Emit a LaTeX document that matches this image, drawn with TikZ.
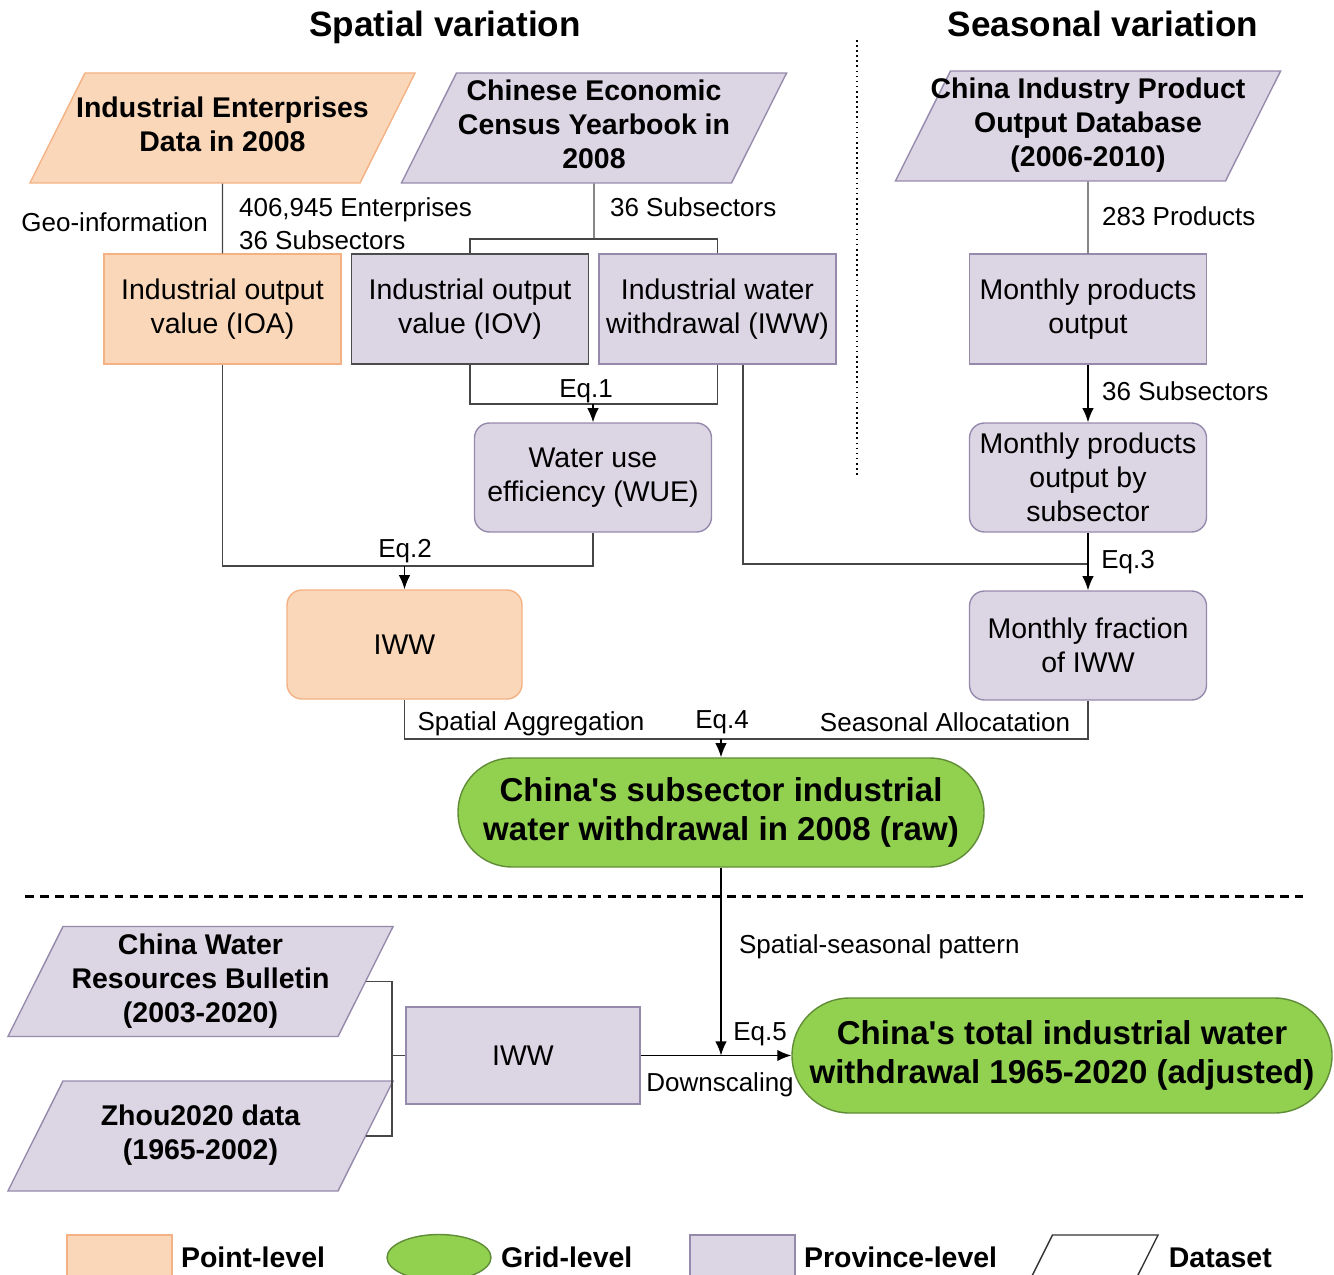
\documentclass[tikz,border=0pt]{standalone}
\usepackage{fontspec}
\setmainfont{Liberation Sans}
\usepackage{tikz}
\usetikzlibrary{shapes,positioning,calc}
\usetikzlibrary{shapes.geometric, arrows}
\usetikzlibrary{arrows.meta}
\definecolor{pointfill}{RGB}{250,215,185}
\definecolor{pointline}{RGB}{244,177,131}
\definecolor{provfill}{RGB}{220,214,228}
\definecolor{provline}{RGB}{150,138,172}
\definecolor{gridfill}{RGB}{146,208,80}
\definecolor{gridline}{RGB}{96,140,55}
\definecolor{connline}{RGB}{70,70,70}
\newcommand{\boxtext}{\fontsize{16.2}{19.4}\selectfont}
\newcommand{\boxbold}{\fontsize{16.2}{19.4}\selectfont\bfseries}
\newcommand{\gridbold}{\fontsize{18.8}{22.2}\selectfont\bfseries}
\newcommand{\titlebold}{\fontsize{20}{24}\selectfont\bfseries}
\newcommand{\labeltext}{\fontsize{14.8}{18.8}\selectfont}
\newcommand{\databody}[1]{\parbox[c][2.2cm][c]{5.5cm}{\centering\makebox[0pt]{\raisebox{-0.06cm}{\begin{tabular}{@{}c@{}}#1\end{tabular}}}}}
\tikzstyle{pointbox} = [rectangle, minimum width=4.74cm, minimum height=2.2cm, text centered, align=center, draw=pointline, fill=pointfill, line width=0.8pt, font=\boxtext]
\tikzstyle{provbox} = [rectangle, minimum width=4.74cm, minimum height=2.2cm, text centered, align=center, draw=provline, fill=provfill, line width=0.8pt, font=\boxtext]
\tikzstyle{roundprov} = [provbox, rounded corners=0.3cm]
\tikzstyle{dataset} = [trapezium, trapezium left angle=63.4, trapezium right angle=116.6, inner sep=0pt, line width=0.8pt, font=\boxbold]
\tikzstyle{gridbox} = [rectangle, rounded corners=1.08cm, minimum width=10.52cm, minimum height=2.18cm, text centered, align=center, draw=gridline, fill=gridfill, line width=0.8pt, font=\gridbold]
\tikzstyle{lbl} = [font=\labeltext, inner sep=1pt]
\tikzstyle{conn} = [draw=connline, line width=0.8pt]
\tikzstyle{arrow} = [line width=0.8pt,->,>={Latex[length=8pt,width=6.5pt]}]

\begin{document}
\begin{tikzpicture}
	\useasboundingbox (0,0) rectangle (26.68,-25.5);
	\node (tspatial) at (8.90,-0.73) [font=\titlebold, anchor=base] {Spatial variation};
	\node (tseasonal) at (22.06,-0.73) [font=\titlebold, anchor=base] {Seasonal variation};
	\draw[dotted, line width=0.9pt] (17.14,-0.8) -- (17.14,-9.5);

	\node (ied) at (4.45,-2.56) [dataset, draw=pointline, fill=pointfill] {\databody{Industrial Enterprises\\Data in 2008}};
	\node (cecy) at (11.88,-2.56) [dataset, draw=provline, fill=provfill] {\databody{Chinese Economic\\Census Yearbook in\\2008}};
	\node (cipo) at (21.76,-2.52) [dataset, draw=provline, fill=provfill] {\databody{China Industry Product\\Output Database\\(2006-2010)}};

	\node (ioa) at (4.45,-6.18) [pointbox] {Industrial output\\value (IOA)};
	\node (iov) at (9.40,-6.18) [provbox, draw=black!70] {Industrial output\\value (IOV)};
	\node (iwwp) at (14.35,-6.18) [provbox] {Industrial water\\withdrawal (IWW)};
	\node (mpo) at (21.76,-6.18) [provbox] {Monthly products\\output};
	\node (wue) at (11.86,-9.55) [roundprov, minimum height=2.18cm] {Water use\\efficiency (WUE)};
	\node (mpos) at (21.76,-9.55) [roundprov, minimum height=2.18cm] {Monthly products\\output by\\subsector};
	\node (iwwpt) at (8.09,-12.89) [pointbox, rounded corners=0.3cm, minimum width=4.7cm, minimum height=2.18cm] {IWW};
	\node (mfrac) at (21.76,-12.91) [roundprov, minimum height=2.18cm] {Monthly fraction\\of IWW};
	\node (raw) at (14.42,-16.25) [gridbox] {China\textquotesingle s subsector industrial\\water withdrawal in 2008 (raw)};

	\draw[dashed, line width=1.7pt, dash pattern=on 5pt off 3.5pt] (0.5,-17.92) -- (26.1,-17.92);

	\node (cwrb) at (4.01,-19.63) [dataset, draw=provline, fill=provfill] {\databody{China Water\\Resources Bulletin\\(2003-2020)}};
	\node (zhou) at (4.01,-22.72) [dataset, draw=provline, fill=provfill] {\databody{Zhou2020 data\\(1965-2002)}};
	\node (iwwb) at (10.46,-21.11) [provbox, minimum width=4.68cm, minimum height=1.94cm] {IWW};
	\node (adj) at (21.24,-21.11) [gridbox, minimum width=10.8cm, minimum height=2.3cm, rounded corners=1.15cm] {China\textquotesingle s total industrial water\\withdrawal 1965-2020 (adjusted)};

	\coordinate (s1) at (11.88,-4.78);
	\coordinate (e1j) at (11.86,-8.08);
	\coordinate (e2j) at (8.09,-11.32);
	\coordinate (e3j) at (21.76,-11.28);
	\coordinate (e4j) at (14.42,-14.78);
	\coordinate (e5j) at (14.42,-21.11);
	\coordinate (bj) at (7.84,-21.11);

	\draw[conn] (ied) -- (ioa);
	\draw[conn] (cecy) -- (s1);
	\draw[conn] (iov.north) |- (s1) -| (iwwp.north);
	\draw[conn] (iov.south) |- (e1j) -| (iwwp.south);
	\draw[arrow] (e1j) -- (wue);
	\draw[conn] (ioa.south) |- (e2j) -| (wue.south);
	\draw[arrow] (e2j) -- (iwwpt);
	\draw[conn] ([xshift=0.51cm]iwwp.south) |- (e3j);
	\draw[conn] (cipo) -- (mpo);
	\draw[arrow] (mpo) -- (mpos);
	\draw[arrow] (mpos) -- (mfrac);
	\draw[conn] (iwwpt.south) |- (e4j) -| (mfrac.south);
	\draw[arrow] (e4j) -- (raw);
	\draw[arrow] (raw) -- (e5j);
	\draw[conn] (cwrb) -| (bj);
	\draw[conn] (zhou) -| (bj);
	\draw[conn] (bj) -- (iwwb);
	\draw[arrow] (iwwb) -- (adj);

	\node (lgeo) at (4.20,-4.44) [lbl, anchor=east] {Geo-information};
	\node (lent) at (4.74,-4.47) [lbl, anchor=west, align=left] {406,945 Enterprises\\36 Subsectors};
	\node (lsub1) at (12.16,-4.14) [lbl, anchor=west] {36 Subsectors};
	\node (lprod) at (22.0,-4.32) [lbl, anchor=west] {283 Products};
	\node (lsub2) at (22.0,-7.82) [lbl, anchor=west] {36 Subsectors};
	\node (leq1) at (11.72,-7.82) [lbl] {Eq.1};
	\node (leq2) at (8.10,-11.02) [lbl] {Eq.2};
	\node (leq3) at (22.56,-11.24) [lbl] {Eq.3};
	\node (lspag) at (10.62,-14.48) [lbl] {Spatial Aggregation};
	\node (leq4) at (14.44,-14.44) [lbl] {Eq.4};
	\node (lseal) at (18.90,-14.44) [lbl] {Seasonal Allocatation};
	\node (lpat) at (14.74,-18.94) [lbl, anchor=west] {Spatial-seasonal pattern};
	\node (leq5) at (15.20,-20.68) [lbl] {Eq.5};
	\node (ldown) at (14.40,-21.70) [lbl] {Downscaling};

	\node (kpoint) at (2.39,-25.15) [pointbox, minimum width=2.1cm, minimum height=0.9cm] {};
	\node (kpointt) [right=0.16cm of kpoint, font=\boxbold, inner sep=0pt] {Point-level};
	\node (kgrid) at (8.78,-25.15) [ellipse, draw=gridline, fill=gridfill, line width=0.8pt, minimum width=2.08cm, minimum height=0.92cm] {};
	\node (kgridt) [right=0.18cm of kgrid, font=\boxbold, inner sep=0pt] {Grid-level};
	\node (kprov) at (14.85,-25.15) [provbox, minimum width=2.1cm, minimum height=0.9cm] {};
	\node (kprovt) [right=0.16cm of kprov, font=\boxbold, inner sep=0pt] {Province-level};
	\node (kdata) at (21.88,-25.15) [dataset, draw=black!80, fill=white] {\parbox[c][0.9cm][c]{1.66cm}{\hspace*{1.66cm}}};
	\node (kdatat) [right=0.42cm of kdata, font=\boxbold, inner sep=0pt] {Dataset};
\end{tikzpicture}
\end{document}
